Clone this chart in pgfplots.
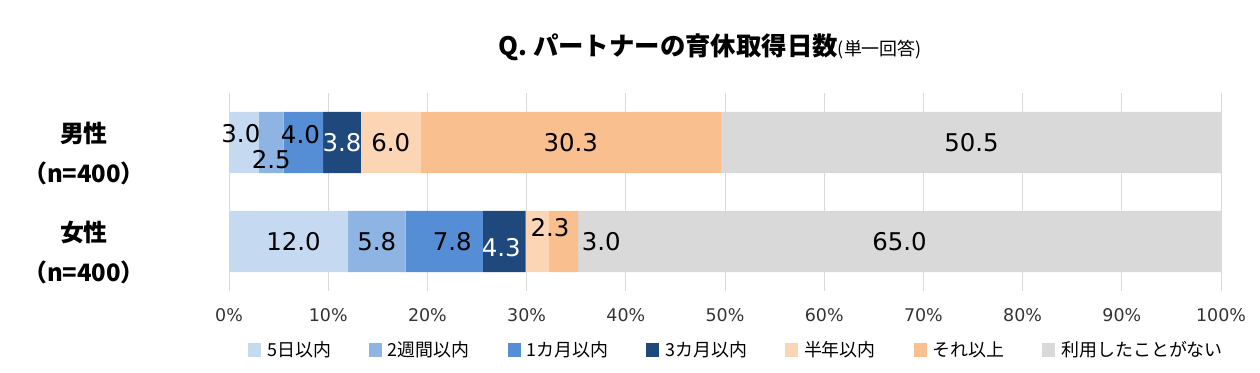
\documentclass[border=0pt]{standalone}
\usepackage{fontspec}
\setmainfont{DejaVu Sans}
\newfontfamily\cjk{Noto Sans CJK JP}
\usepackage{pgfplots}
\usepackage{pgfplotstable}
\pgfplotsset{compat=1.18}

\definecolor{c1}{HTML}{C5D9F1}
\definecolor{c2}{HTML}{8DB4E2}
\definecolor{c3}{HTML}{558ED5}
\definecolor{c4}{HTML}{1F497D}
\definecolor{c5}{HTML}{FCD5B4}
\definecolor{c6}{HTML}{FABF8F}
\definecolor{c7}{HTML}{D9D9D9}
\definecolor{gridc}{HTML}{D9D9D9}

\pgfplotstableread{
y a b c d e f g
1 3.0 2.5 4.0 3.8 6.0 30.3 50.5
0 12.0 5.8 7.8 4.3 2.3 3.0 65.0
}\data

\pgfplotstableread{
x y lab dx dy
1.5 1 3.0 -3 9
4.25 1 2.5 0 -17.5
7.5 1 4.0 -3 7.5
16.3 1 6.0 0 0
34.45 1 30.3 0 0
74.85 1 50.5 0 0
6.0 0 12.0 5 0
14.9 0 5.8 0 0
21.7 0 7.8 8 0
31.05 0 2.3 13 14
33.7 0 3.0 38 0
67.6 0 65.0 0 0
}\lblblack

\pgfplotstableread{
x y lab dx dy
11.4 1 3.8 0 0
27.75 0 4.3 -3 -6
}\lblwhite

\pgfplotsset{
  common/.style={
    at={(229bp,82bp)}, anchor=south west,
    scale only axis, width=992bp, height=198bp,
    xmin=0, xmax=100, ymin=-0.5, ymax=1.5,
  },
  lbl/.style={
    only marks, mark=none,
    nodes near coords, point meta=explicit symbolic,
    visualization depends on={\thisrow{dx} \as \dx},
    visualization depends on={\thisrow{dy} \as \dy},
    every node near coord/.append style={anchor=center, xshift=\dx bp, yshift=\dy bp,
      font=\fontsize{24.5}{28}\selectfont, inner sep=0pt},
  },
}

\begin{document}
\begin{tikzpicture}
\useasboundingbox (0bp,0bp) rectangle (1260bp,373bp);
\begin{axis}[
  common,
  xbar stacked, bar width=61bp,
  axis line style={draw=none},
  major tick length=0pt,
  xtick={0,10,...,100},
  xmajorgrids, grid style={gridc, line width=1bp},
  xticklabel={\pgfmathprintnumber{\tick}\%},
  /pgf/number format/assume math mode=true,
  xticklabel style={font=\fontsize{17.5}{20}\selectfont, text=black!80, yshift=-14bp},
  ytick={0,1},
  yticklabels={{女性\\（n=400）},{男性\\（n=400）}},
  yticklabel style={font=\cjk\bfseries\fontsize{24}{41}\selectfont, align=center,
    anchor=center, xshift=-145bp, yshift=-11bp},
  title={{\cjk\bfseries\fontsize{25.5}{28}\selectfont Q. パートナーの育休取得日数}{\cjk\fontsize{18}{20}\selectfont (単一回答)}},
  title style={at={(rel axis cs:0.485,1)}, anchor=center, yshift=40bp, inner sep=0pt},
  legend columns=7,
  legend image code/.code={\fill[#1] (0bp,-7bp) rectangle (13bp,7bp);},
  legend style={draw=none, fill=none, at={(rel axis cs:0,0)}, anchor=west,
    xshift=19bp, yshift=-59bp, inner sep=0pt,
    nodes={inner sep=0pt},
    font=\cjk\fontsize{18}{22}\selectfont,
    /tikz/every odd column/.append style={column sep=6bp},
    /tikz/every even column/.append style={column sep=38bp}},
]
\addplot[fill=c1, draw=none] table[x=a, y=y]{\data};
\addlegendentry{5日以内}
\addplot[fill=c2, draw=none] table[x=b, y=y]{\data};
\addlegendentry{2週間以内}
\addplot[fill=c3, draw=none] table[x=c, y=y]{\data};
\addlegendentry{1カ月以内}
\addplot[fill=c4, draw=none] table[x=d, y=y]{\data};
\addlegendentry{3カ月以内}
\addplot[fill=c5, draw=none] table[x=e, y=y]{\data};
\addlegendentry{半年以内}
\addplot[fill=c6, draw=none] table[x=f, y=y]{\data};
\addlegendentry{それ以上}
\addplot[fill=c7, draw=none] table[x=g, y=y]{\data};
\addlegendentry{利用したことがない}
\end{axis}
\begin{axis}[common, hide axis, clip=false]
\addplot[lbl, every node near coord/.append style={text=black}] table[x=x, y=y, meta=lab]{\lblblack};
\addplot[lbl, every node near coord/.append style={text=white}] table[x=x, y=y, meta=lab]{\lblwhite};
\end{axis}
\end{tikzpicture}
\end{document}
